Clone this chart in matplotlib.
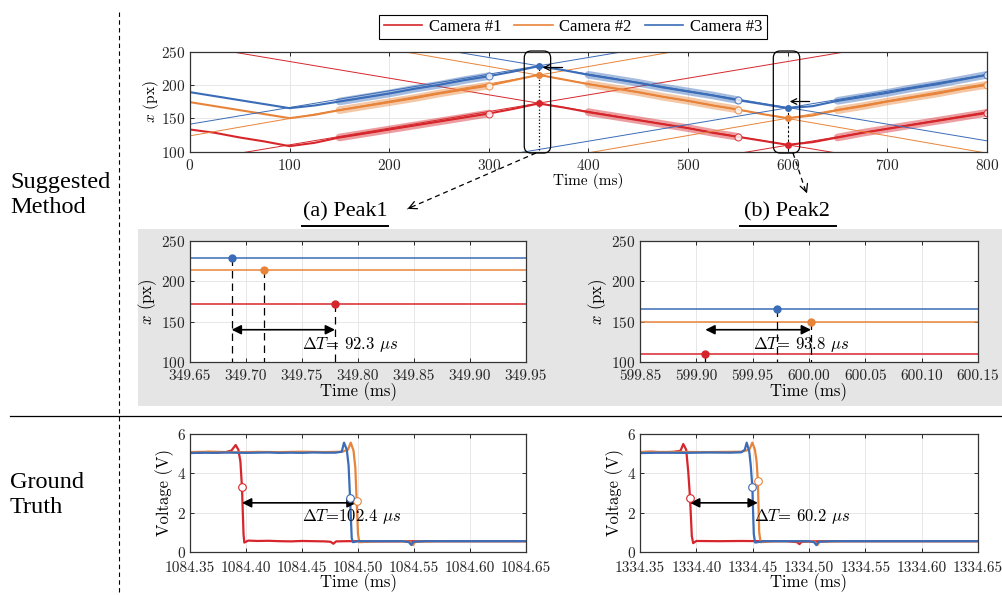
import numpy as np
import matplotlib
matplotlib.use('Agg')
import matplotlib.pyplot as plt
from matplotlib.lines import Line2D
from matplotlib.patches import Rectangle, FancyBboxPatch
from matplotlib.transforms import IdentityTransform

plt.rcParams['font.family'] = 'cmr10'
plt.rcParams['mathtext.fontset'] = 'cm'
plt.rcParams['axes.formatter.use_mathtext'] = True
plt.rcParams['axes.unicode_minus'] = False

W, H = 1003, 595
SERIF = 'Liberation Serif'

cams = ['Camera #1', 'Camera #2', 'Camera #3']
colors = ['#d7262b', '#e8843a', '#3b6cb7']

# ---- tracked position of the bar in each camera (every 25 ms) ----
t_raw = np.arange(0, 825, 25)
x_red = [133, 128, 121, 115, 108, 113, 121, 127, 133, 139, 145, 151, 157, 164, 172, 166, 159,
         153, 147, 141, 135, 128, 122, 116, 110, 114, 121, 128, 134, 140, 146, 152, 158]
x_orange = [174, 168, 162, 156, 150, 155, 162, 168, 174, 180, 187, 193, 199, 207, 215, 208, 201,
            195, 189, 182, 176, 169, 163, 156, 150, 154, 162, 168, 175, 181, 187, 194, 200]
x_blue = [189, 183, 177, 171, 165, 169, 175, 181, 187, 194, 200, 207, 213, 220, 228, 222, 215,
          209, 203, 196, 190, 184, 177, 171, 165, 168, 176, 182, 188, 195, 201, 208, 215]
x_raw = [x_red, x_orange, x_blue]

# sample ranges used for the line fits
fit_ranges = [(150, 300), (400, 550), (650, 800)]
# peak instants and fitted peak positions
peak_t = [350, 600]
peak1_x = [172.5, 214.5, 228.5]
peak2_x = [109.5, 150.0, 165.5]
slopes = [0.25, 0.26, 0.25]

# ---- zoomed peak times (ms) ----
p1_times = [349.7795, 349.7160, 349.6872]
p2_times = [599.9080, 600.0018, 599.9720]

# ---- ground truth photodiode voltages ----
gt1_t = [
    [1084.350, 1084.358, 1084.366, 1084.374, 1084.382, 1084.387, 1084.3908, 1084.3932, 1084.3950,
     1084.3964, 1084.3978, 1084.3985, 1084.402, 1084.410, 1084.420, 1084.430, 1084.440, 1084.450,
     1084.460, 1084.470, 1084.4755, 1084.4780, 1084.4805, 1084.490, 1084.500, 1084.520, 1084.560,
     1084.600, 1084.650],
    [1084.350, 1084.370, 1084.390, 1084.410, 1084.430, 1084.450, 1084.470, 1084.486, 1084.4910,
     1084.4935, 1084.4960, 1084.4976, 1084.4988, 1084.5000, 1084.5012, 1084.520, 1084.540,
     1084.5470, 1084.5490, 1084.5510, 1084.570, 1084.650],
    [1084.350, 1084.360, 1084.370, 1084.380, 1084.390, 1084.400, 1084.410, 1084.420, 1084.430,
     1084.440, 1084.450, 1084.460, 1084.470, 1084.480, 1084.4855, 1084.4875, 1084.4900, 1084.4916,
     1084.4929, 1084.4944, 1084.4955, 1084.500, 1084.520, 1084.540, 1084.5455, 1084.5475,
     1084.5495, 1084.560, 1084.600, 1084.650],
]
gt1_v = [
    [5.07, 5.04, 5.09, 5.05, 5.08, 5.16, 5.44, 5.20, 4.60, 3.30, 0.90, 0.48, 0.58, 0.56, 0.57,
     0.55, 0.54, 0.56, 0.55, 0.54, 0.52, 0.42, 0.54, 0.55, 0.55, 0.54, 0.55, 0.55, 0.55],
    [5.08, 5.10, 5.07, 5.09, 5.08, 5.10, 5.08, 5.10, 5.20, 5.56, 5.15, 4.30, 2.60, 0.90, 0.50,
     0.55, 0.55, 0.50, 0.35, 0.52, 0.55, 0.55],
    [5.03, 5.05, 5.04, 5.06, 5.05, 5.04, 5.05, 5.06, 5.04, 5.05, 5.04, 5.06, 5.05, 5.05, 5.10,
     5.56, 5.20, 4.40, 2.75, 0.70, 0.50, 0.55, 0.55, 0.55, 0.50, 0.36, 0.52, 0.55, 0.55, 0.55],
]
gt1_mark_t = [1084.3964, 1084.4988, 1084.4929]
gt1_mark_v = [3.30, 2.60, 2.75]

gt2_t = [
    [1334.350, 1334.360, 1334.370, 1334.380, 1334.3860, 1334.3884, 1334.3910, 1334.3928,
     1334.3944, 1334.3960, 1334.3972, 1334.400, 1334.420, 1334.440, 1334.460, 1334.480,
     1334.4895, 1334.4915, 1334.4935, 1334.510, 1334.550, 1334.600, 1334.650],
    [1334.350, 1334.380, 1334.410, 1334.440, 1334.4470, 1334.4497, 1334.4520, 1334.4535,
     1334.4546, 1334.4558, 1334.4570, 1334.470, 1334.500, 1334.5055, 1334.5075, 1334.5095,
     1334.530, 1334.650],
    [1334.350, 1334.370, 1334.390, 1334.410, 1334.430, 1334.440, 1334.4430, 1334.4447,
     1334.4470, 1334.4483, 1334.4497, 1334.4510, 1334.4522, 1334.460, 1334.480, 1334.500,
     1334.5045, 1334.5065, 1334.5085, 1334.520, 1334.600, 1334.650],
]
gt2_v = [
    [5.08, 5.10, 5.07, 5.09, 5.15, 5.49, 5.20, 4.10, 2.76, 0.80, 0.45, 0.56, 0.55, 0.56, 0.55,
     0.55, 0.50, 0.40, 0.52, 0.55, 0.55, 0.55, 0.55],
    [5.08, 5.09, 5.08, 5.10, 5.20, 5.56, 5.20, 4.60, 3.61, 1.00, 0.50, 0.55, 0.55, 0.50, 0.36,
     0.52, 0.55, 0.55],
    [5.03, 5.05, 5.04, 5.06, 5.05, 5.07, 5.20, 5.56, 5.10, 4.40, 3.32, 0.90, 0.48, 0.55, 0.55,
     0.55, 0.50, 0.35, 0.52, 0.55, 0.55, 0.55],
]
gt2_mark_t = [1334.3944, 1334.4546, 1334.4497]
gt2_mark_v = [2.76, 3.61, 3.32]


def px(x, y, w, h):
    return [x / W, 1 - (y + h) / H, w / W, h / H]


def style(ax, xpad=5):
    ax.tick_params(direction='in', top=True, right=True, length=3, width=0.7,
                   labelsize=11, colors='#262626')
    ax.tick_params(axis='x', pad=xpad)
    ax.tick_params(axis='y', pad=3)
    for s in ax.spines.values():
        s.set_color('#333333')
        s.set_linewidth(0.9)
    ax.grid(True, color='#e3e3e3', lw=0.6)
    ax.set_axisbelow(True)


def delta_arrow(ax, t0, t1, y, tx, ty, sep=' '):
    ax.annotate('', xy=(t1, y), xytext=(t0, y),
                arrowprops=dict(arrowstyle='<|-|>', color='k', lw=1.2,
                                mutation_scale=14, shrinkA=0, shrinkB=0))
    dt = (t1 - t0) * 1000
    ax.text(tx, ty, r'$\Delta T$=%s%.1f $\mu s$' % (sep, dt), fontsize=12, va='center', ha='left')


fig = plt.figure(figsize=(W / 100, H / 100), dpi=100)

fig.add_artist(Rectangle((138 / W, 1 - 406 / H), 1 - 138 / W, 177 / H,
                         transform=fig.transFigure, facecolor='#e5e5e5',
                         edgecolor='none', zorder=-5))
fig.add_artist(Line2D([119 / W, 119 / W], [1 - 12 / H, 0], transform=fig.transFigure,
                      color='k', lw=0.8, ls=(0, (4, 3))))
fig.add_artist(Line2D([10 / W, 1], [1 - 416 / H] * 2, transform=fig.transFigure,
                      color='k', lw=0.9))
fig.text(10 / W, 1 - 195 / H, 'Suggested\nMethod', family=SERIF, fontsize=17.5,
         ha='left', va='center', linespacing=1.25)
fig.text(10 / W, 1 - 495 / H, 'Ground\nTruth', family=SERIF, fontsize=17.5,
         ha='left', va='center', linespacing=1.25)

# ---------- top: full trajectories ----------
ax = fig.add_axes(px(190, 51.5, 797, 100))
style(ax)
t_line = np.array([0, 800])
for i in range(3):
    c = colors[i]
    s = slopes[i]
    ax.plot(t_line, peak1_x[i] + s * (t_line - peak_t[0]), color=c, lw=0.7)
    ax.plot(t_line, peak1_x[i] - s * (t_line - peak_t[0]), color=c, lw=0.7)
    ax.plot(t_line, peak2_x[i] + s * (t_line - peak_t[1]), color=c, lw=0.7)
    ax.plot(t_raw, x_raw[i], color=c, lw=1.5)
    xr = np.array(x_raw[i])
    for a, b in fit_ranges:
        m = (t_raw >= a) & (t_raw <= b)
        ax.plot(t_raw[m], xr[m], color=c, lw=5.5, alpha=0.45, solid_capstyle='round')
        ax.plot(t_raw[m], xr[m], color=c, lw=0.8)
        ax.plot(t_raw[m][-1], xr[m][-1], 'o', ms=5, mfc='white', mec=c, mew=0.8, alpha=0.8)
    ax.plot(peak_t, [peak1_x[i], peak2_x[i]], 'o', ms=4, color=c, zorder=5)
ax.plot([peak_t[0]] * 2, [peak1_x[2], 100], ':', color='k', lw=0.9, zorder=4)
ax.plot([peak_t[1]] * 2, [peak2_x[2], 100], '--', color='k', lw=0.8, dashes=(2, 2), zorder=4)
ax.set_xlim(0, 800)
ax.set_ylim(100, 250)
ax.set_xticks(range(0, 801, 100))
ax.set_yticks([100, 150, 200, 250])
ax.set_xlabel('Time (ms)', fontsize=11, labelpad=0)
ax.set_ylabel('$x$ (px)', fontsize=11, labelpad=0)
ax.annotate('', xy=(354, 226), xytext=(374, 226),
            arrowprops=dict(arrowstyle='->', lw=0.9, color='k', shrinkA=0, shrinkB=0))
ax.annotate('', xy=(602, 175), xytext=(622, 175),
            arrowprops=dict(arrowstyle='->', lw=0.9, color='k', shrinkA=0, shrinkB=0))

# rounded frames around the two peaks
for tp in peak_t:
    x0, y0 = ax.transData.transform((tp - 14.5, 100))
    x1, y1 = ax.transData.transform((tp + 12, 250))
    y0 -= 1.5
    y1 += 0.5
    r = 7
    fig.add_artist(FancyBboxPatch((x0 + r, y0 + r), x1 - x0 - 2 * r, y1 - y0 - 2 * r,
                                  boxstyle='round,pad=%d' % r, transform=IdentityTransform(),
                                  facecolor='none', edgecolor='k', lw=0.9, zorder=6))

handles = [Line2D([], [], color=c, lw=1.2) for c in colors]
leg = fig.legend(handles, cams, loc='center', bbox_to_anchor=(573 / W, 1 - 27 / H), ncol=3,
                 frameon=True, fancybox=False, edgecolor='k', framealpha=1,
                 prop={'family': SERIF, 'size': 12}, handlelength=2.3, columnspacing=0.8,
                 handletextpad=0.4, borderpad=0.25)
leg.get_frame().set_linewidth(0.8)

# headers for the zoomed views
fig.text(345 / W, 1 - 212 / H, '(a) Peak1', family=SERIF, fontsize=16, ha='center', va='center')
fig.text(787 / W, 1 - 212 / H, '(b) Peak2', family=SERIF, fontsize=16, ha='center', va='center')
for a, b in [(302, 388), (740, 836)]:
    fig.add_artist(Line2D([a / W, b / W], [1 - 226 / H] * 2, transform=fig.transFigure,
                          color='k', lw=1.4))
fig.add_artist(Line2D([536 / W, 407 / W], [1 - 153 / H, 1 - 209 / H], transform=fig.transFigure,
                      color='k', lw=0.9, ls=(0, (4, 3))))
fig.add_artist(Line2D([793 / W, 806 / W], [1 - 153 / H, 1 - 192 / H], transform=fig.transFigure,
                      color='k', lw=0.9, ls=(0, (4, 3))))
fig.add_artist(matplotlib.patches.FancyArrowPatch(
    (414 / W, 1 - 206 / H), (405 / W, 1 - 210 / H), transform=fig.transFigure,
    arrowstyle='->', mutation_scale=14, lw=0.9, color='k'))
fig.add_artist(matplotlib.patches.FancyArrowPatch(
    (805 / W, 1 - 188 / H), (808 / W, 1 - 196 / H), transform=fig.transFigure,
    arrowstyle='->', mutation_scale=14, lw=0.9, color='k'))

# ---------- middle: zoom on the peaks ----------
mid = [
    (px(190, 241, 336, 121), p1_times, peak1_x, 349.65, 349.7502),
    (px(640, 241, 338, 121), p2_times, peak2_x, 599.85, 599.9505),
]
for rect, times, vals, t0, tx in mid:
    axm = fig.add_axes(rect)
    style(axm)
    for i in range(3):
        axm.axhline(vals[i], color=colors[i], lw=1.1)
        axm.plot([times[i]] * 2, [vals[i], 100], color='k', lw=0.9, dashes=(6, 4))
        axm.plot(times[i], vals[i], 'o', ms=5, color=colors[i], zorder=5)
    delta_arrow(axm, min(times), max(times), 140, tx, 122)
    axm.set_xlim(t0, t0 + 0.3)
    axm.set_ylim(100, 250)
    axm.set_xticks(np.linspace(t0, t0 + 0.3, 7))
    axm.set_yticks([100, 150, 200, 250])
    axm.xaxis.set_major_formatter(matplotlib.ticker.FormatStrFormatter('%.2f'))
    axm.set_xlabel('Time (ms)', fontsize=12, labelpad=0)
    axm.set_ylabel('$x$ (px)', fontsize=12, labelpad=2)

# ---------- bottom: ground truth ----------
bot = [
    (px(190, 434, 336, 118), gt1_t, gt1_v, gt1_mark_t, gt1_mark_v, 1084.35, 1084.4502, ''),
    (px(640, 434, 338, 118), gt2_t, gt2_v, gt2_mark_t, gt2_mark_v, 1334.35, 1334.4510, ' '),
]
for rect, ts, vs, mt, mv, t0, tx, sep in bot:
    axb = fig.add_axes(rect)
    style(axb, xpad=6.5)
    for i in range(3):
        axb.plot(ts[i], vs[i], color=colors[i], lw=1.6)
    for i in range(3):
        axb.plot(mt[i], mv[i], 'o', ms=5.5, mfc='white', mec=colors[i], mew=0.8, zorder=5)
    delta_arrow(axb, mt[0], mt[1], 2.5, tx, 1.78, sep)
    axb.set_xlim(t0, t0 + 0.3)
    axb.set_ylim(0, 6)
    axb.set_xticks(np.linspace(t0, t0 + 0.3, 7))
    axb.set_yticks([0, 2, 4, 6])
    axb.xaxis.set_major_formatter(matplotlib.ticker.FormatStrFormatter('%.2f'))
    axb.set_xlabel('Time (ms)', fontsize=12, labelpad=-1)
    axb.set_ylabel('Voltage (V)', fontsize=12, labelpad=2)

fig.savefig('out.png', dpi=100)
